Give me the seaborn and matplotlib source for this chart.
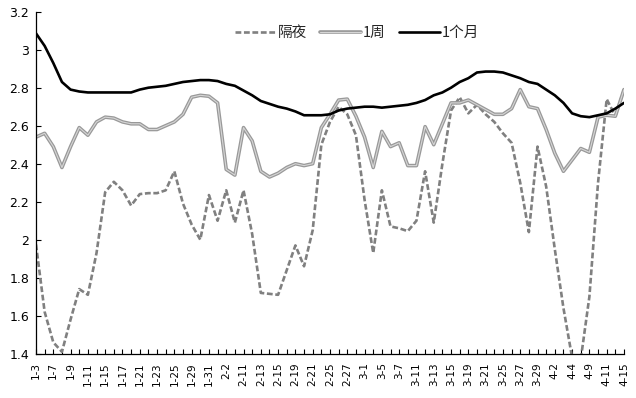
import matplotlib
matplotlib.use("Agg")
import matplotlib.pyplot as plt
import matplotlib.patheffects as pe
import seaborn as sns
import numpy as np

# category labels (shown on every other point)
tick_labels = ["1-3", "1-7", "1-9", "1-11", "1-15", "1-17", "1-21", "1-23", "1-25",
               "1-29", "1-31", "2-2", "2-11", "2-13", "2-15", "2-19", "2-21", "2-25",
               "2-27", "3-1", "3-5", "3-7", "3-11", "3-13", "3-15", "3-19", "3-21",
               "3-25", "3-27", "3-29", "4-2", "4-4", "4-9", "4-11", "4-15"]

overnight = [1.975, 1.62, 1.46, 1.41, 1.58, 1.74, 1.71, 1.93, 2.25, 2.305,
             2.26, 2.18, 2.24, 2.245, 2.245, 2.26, 2.36, 2.19, 2.08, 2.00,
             2.235, 2.10, 2.26, 2.09, 2.26, 2.03, 1.72, 1.715, 1.71, 1.84,
             1.97, 1.86, 2.05, 2.50, 2.62, 2.70, 2.66, 2.55, 2.21, 1.93,
             2.26, 2.07, 2.06, 2.045, 2.10, 2.36, 2.09, 2.40, 2.68, 2.75,
             2.665, 2.71, 2.66, 2.62, 2.56, 2.51, 2.30, 2.04, 2.49, 2.28,
             1.95, 1.64, 1.38, 1.37, 1.70, 2.30, 2.74, 2.65, 2.79]

week1 = [2.54, 2.56, 2.49, 2.38, 2.49, 2.59, 2.55, 2.62, 2.645, 2.64,
         2.62, 2.61, 2.61, 2.58, 2.58, 2.60, 2.62, 2.66, 2.75, 2.76,
         2.755, 2.72, 2.37, 2.34, 2.59, 2.52, 2.36, 2.33, 2.35, 2.38,
         2.40, 2.39, 2.40, 2.59, 2.66, 2.735, 2.74, 2.65, 2.54, 2.38,
         2.57, 2.49, 2.51, 2.39, 2.39, 2.595, 2.50, 2.61, 2.72, 2.72,
         2.735, 2.71, 2.685, 2.66, 2.66, 2.69, 2.79, 2.70, 2.69, 2.58,
         2.455, 2.36, 2.42, 2.48, 2.46, 2.645, 2.655, 2.65, 2.79]

month1 = [3.086, 3.02, 2.93, 2.83, 2.79, 2.78, 2.775, 2.775, 2.775, 2.775,
          2.775, 2.775, 2.79, 2.80, 2.805, 2.81, 2.82, 2.83, 2.835, 2.84,
          2.84, 2.835, 2.82, 2.81, 2.785, 2.76, 2.73, 2.715, 2.70, 2.69,
          2.675, 2.655, 2.655, 2.655, 2.66, 2.68, 2.69, 2.695, 2.70, 2.70,
          2.695, 2.70, 2.705, 2.71, 2.72, 2.735, 2.76, 2.775, 2.80, 2.83,
          2.85, 2.88, 2.885, 2.885, 2.88, 2.865, 2.85, 2.83, 2.82, 2.79,
          2.76, 2.72, 2.665, 2.65, 2.645, 2.655, 2.665, 2.69, 2.72]

series_names = ["隔夜", "1周", "1个月"]
y_ticks = [1.4, 1.6, 1.8, 2.0, 2.2, 2.4, 2.6, 2.8, 3.0, 3.2]

sns.set_style("ticks")
plt.rcParams['font.family'] = ['Noto Sans CJK SC', 'DejaVu Sans']

fig = plt.figure(figsize=(6.36, 3.98), dpi=100)
ax = fig.add_axes([0.0566, 0.1113, 0.9245, 0.8593])

x = np.arange(len(month1))

sns.lineplot(x=x, y=overnight, ax=ax, color='#808080', linewidth=1.9,
             linestyle=(0, (2.2, 1.0)), label=series_names[0])
sns.lineplot(x=x, y=week1, ax=ax, color='#d6d6d6', linewidth=0.8,
             path_effects=[pe.Stroke(linewidth=2.6, foreground='#999999'), pe.Normal()],
             label=series_names[1])
sns.lineplot(x=x, y=month1, ax=ax, color='black', linewidth=1.9,
             label=series_names[2])

ax.set_xlim(0, len(month1) - 1)
ax.set_ylim(1.4, 3.2)
ax.set_yticks(y_ticks)
ax.set_yticklabels([f"{v:g}" for v in y_ticks], fontsize=9, family='DejaVu Sans')

xt_labels = []
for i in range(len(month1)):
    xt_labels.append(tick_labels[i // 2] if i % 2 == 0 else "")
ax.set_xticks(x)
ax.set_xticklabels(xt_labels, rotation=90, fontsize=7.5, family='DejaVu Sans')

ax.tick_params(axis='both', direction='in', length=3.5, width=0.8, colors='black')
ax.tick_params(axis='x', pad=6)
ax.tick_params(axis='y', pad=5)

for s in ['top', 'right']:
    ax.spines[s].set_visible(False)
for s in ['left', 'bottom']:
    ax.spines[s].set_color('black')
    ax.spines[s].set_linewidth(0.9)

ax.set_xlabel("")
ax.set_ylabel("")

ax.legend(loc='center', bbox_to_anchor=(0.546, 0.938), ncol=3, frameon=False,
          fontsize=10.5, handlelength=2.8, handletextpad=0.15, columnspacing=0.9)

fig.savefig("out.png", dpi=100)
